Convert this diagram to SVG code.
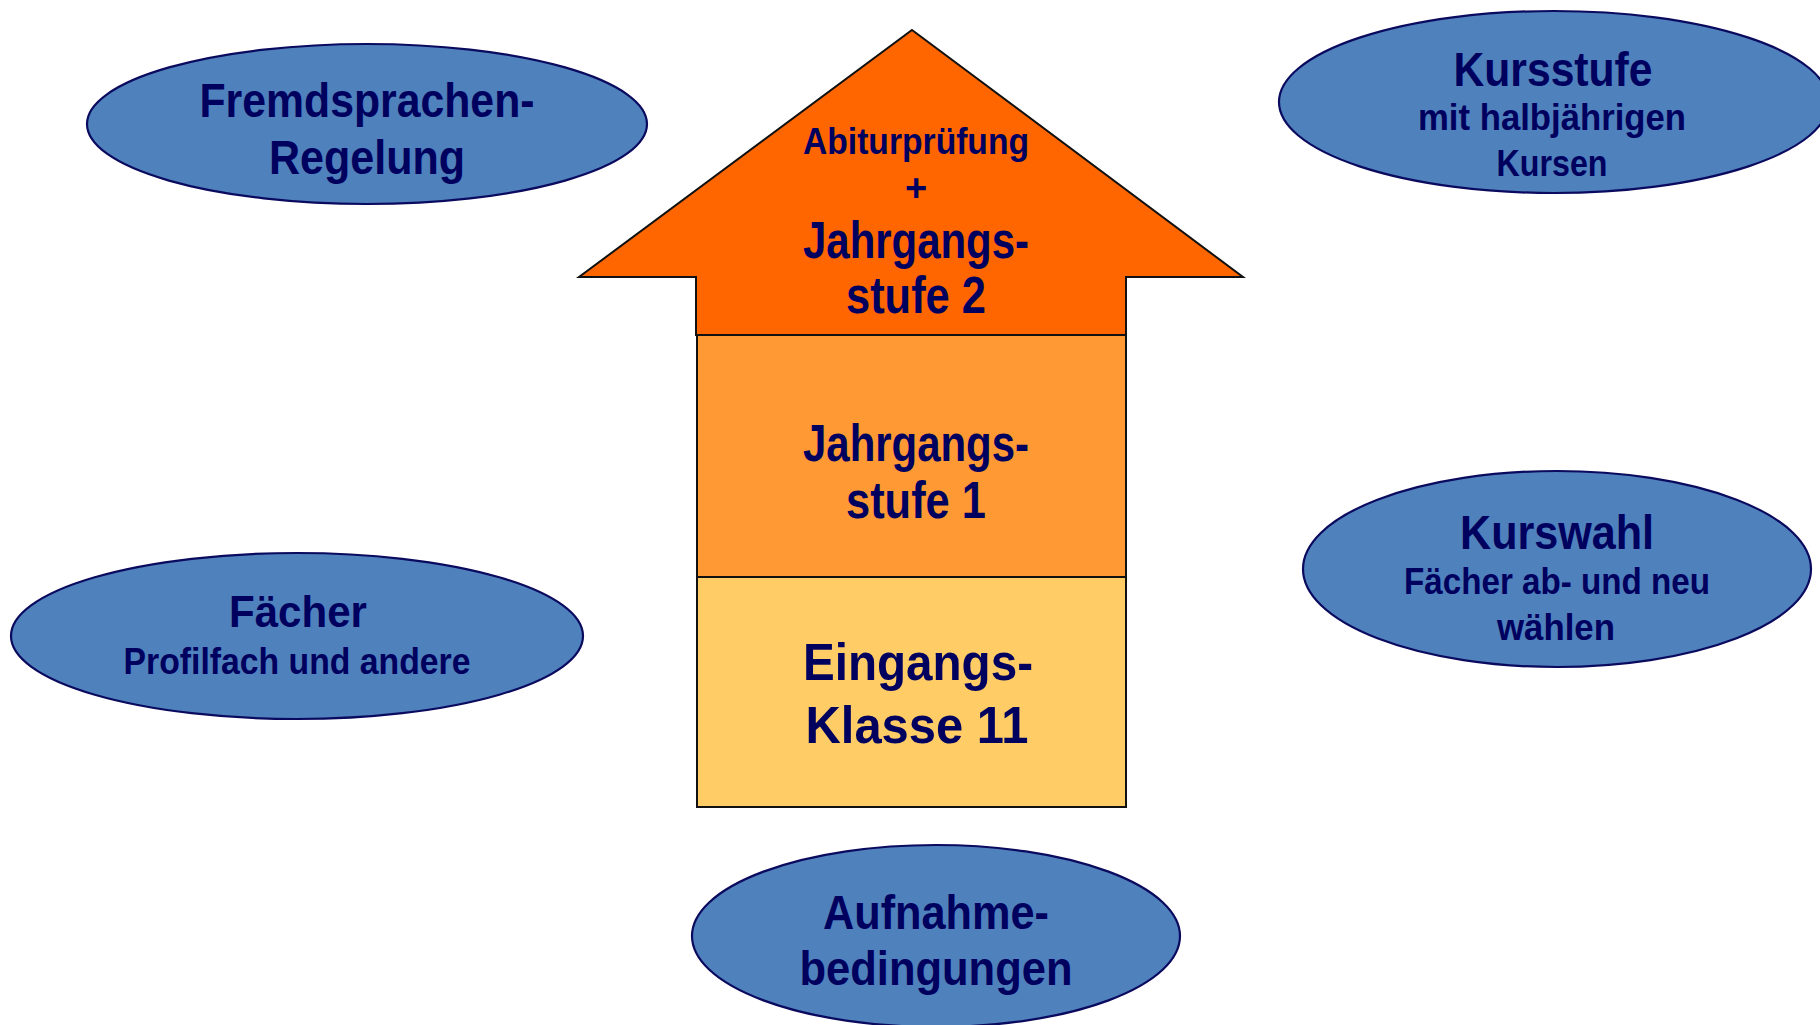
<svg xmlns="http://www.w3.org/2000/svg" width="1820" height="1025" viewBox="0 0 1820 1025">
<style>
.bg{fill:#ffffff}
.ell{fill:#4f81bd;stroke:#0a0a5e;stroke-width:2.2}
.blk{stroke:#111111;stroke-width:2}
.t{font-family:"Liberation Sans",Arial,sans-serif;font-weight:bold;fill:#00005e;text-anchor:middle}
</style>
<rect class="bg" x="0" y="0" width="1820" height="1025"/>
<g id="connectors"></g>
<g id="stufe2">
<polygon class="blk" fill="#ff6600" points="912,30 1243,277 1126,277 1126,335 696,335 696,277 579,277"/>
<text class="t" x="916" y="154" font-size="36" textLength="226" lengthAdjust="spacingAndGlyphs">Abiturprüfung</text>
<text class="t" x="916" y="201" font-size="38">+</text>
<text class="t" x="916" y="258" font-size="52" textLength="226" lengthAdjust="spacingAndGlyphs">Jahrgangs-</text>
<text class="t" x="916" y="313" font-size="52" textLength="140" lengthAdjust="spacingAndGlyphs">stufe 2</text>
</g>
<g id="stufe1">
<rect class="blk" fill="#ff9933" x="697" y="335" width="429" height="242"/>
<text class="t" x="916" y="461" font-size="52" textLength="226" lengthAdjust="spacingAndGlyphs">Jahrgangs-</text>
<text class="t" x="916" y="518" font-size="52" textLength="140" lengthAdjust="spacingAndGlyphs">stufe 1</text>
</g>
<g id="eingang">
<rect class="blk" fill="#ffcc66" x="697" y="577" width="429" height="230"/>
<text class="t" x="918" y="680" font-size="52" textLength="230" lengthAdjust="spacingAndGlyphs">Eingangs-</text>
<text class="t" x="917" y="743" font-size="52" textLength="223" lengthAdjust="spacingAndGlyphs">Klasse 11</text>
</g>
<g id="fremdsprachen">
<ellipse class="ell" cx="367" cy="124" rx="280" ry="80"/>
<text class="t" x="367" y="117" font-size="48" textLength="335" lengthAdjust="spacingAndGlyphs">Fremdsprachen-</text>
<text class="t" x="367" y="174" font-size="48" textLength="196" lengthAdjust="spacingAndGlyphs">Regelung</text>
</g>
<g id="kursstufe">
<ellipse class="ell" cx="1554" cy="102" rx="275" ry="91"/>
<text class="t" x="1553" y="86" font-size="48" textLength="199" lengthAdjust="spacingAndGlyphs">Kursstufe</text>
<text class="t" x="1552" y="130" font-size="36" textLength="268" lengthAdjust="spacingAndGlyphs">mit halbjährigen</text>
<text class="t" x="1552" y="176" font-size="36" textLength="111" lengthAdjust="spacingAndGlyphs">Kursen</text>
</g>
<g id="kurswahl">
<ellipse class="ell" cx="1557" cy="569" rx="254" ry="98"/>
<text class="t" x="1557" y="549" font-size="48" textLength="194" lengthAdjust="spacingAndGlyphs">Kurswahl</text>
<text class="t" x="1557" y="594" font-size="36" textLength="306" lengthAdjust="spacingAndGlyphs">Fächer ab- und neu</text>
<text class="t" x="1556" y="640" font-size="36" textLength="118" lengthAdjust="spacingAndGlyphs">wählen</text>
</g>
<g id="faecher">
<ellipse class="ell" cx="297" cy="636" rx="286" ry="83"/>
<text class="t" x="298" y="627" font-size="44" textLength="138" lengthAdjust="spacingAndGlyphs">Fächer</text>
<text class="t" x="297" y="674" font-size="36" textLength="347" lengthAdjust="spacingAndGlyphs">Profilfach und andere</text>
</g>
<g id="aufnahme">
<ellipse class="ell" cx="936" cy="936" rx="244" ry="91"/>
<text class="t" x="936" y="929" font-size="48" textLength="226" lengthAdjust="spacingAndGlyphs">Aufnahme-</text>
<text class="t" x="936" y="985" font-size="48" textLength="273" lengthAdjust="spacingAndGlyphs">bedingungen</text>
</g>
</svg>
